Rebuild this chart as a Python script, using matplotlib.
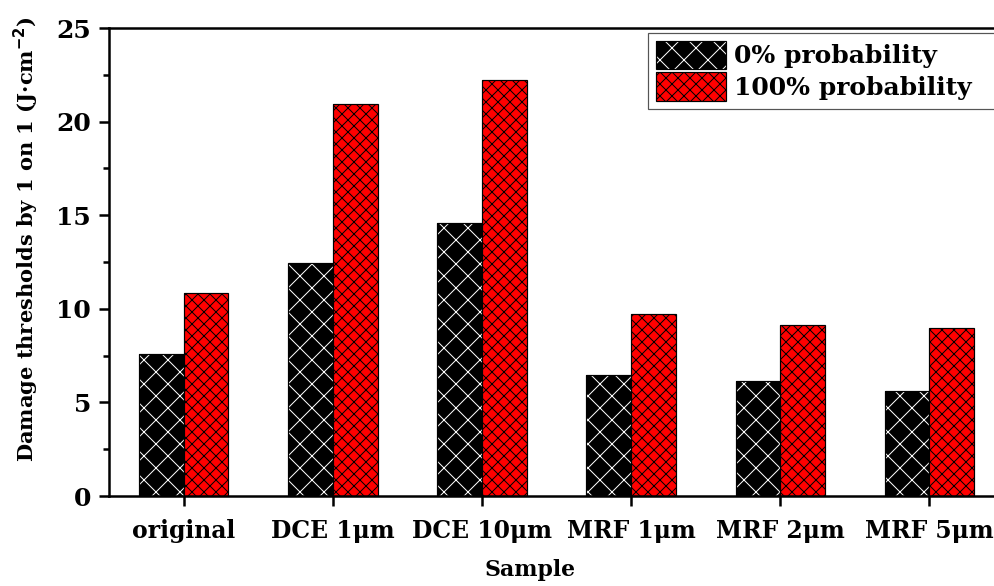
"""Damage thresholds (1-on-1) for the original and processed samples."""

import matplotlib

matplotlib.use("Agg")

import matplotlib.pyplot as plt
import numpy as np
from matplotlib.legend_handler import HandlerTuple
from matplotlib.patches import Patch

SAMPLES = ["original", "DCE 1μm", "DCE 10μm", "MRF 1μm", "MRF 2μm", "MRF 5μm"]
ZERO_PROB = [7.6, 12.45, 14.6, 6.45, 6.15, 5.6]
FULL_PROB = [10.85, 20.95, 22.2, 9.7, 9.15, 8.95]
SERIES_LABELS = ["0% probability", "100% probability"]

plt.rcParams.update(
    {
        "font.family": "DejaVu Serif",
        "font.weight": "bold",
        "hatch.linewidth": 1.0,
        "axes.linewidth": 2.5,
    }
)

# dpi 72 so hatch tiles are 72 px: 'x' ~12 px spacing, 'xx' ~6 px
fig = plt.figure(figsize=(994 / 72, 586 / 72), dpi=72)
ax = fig.add_axes([109 / 994, 1 - 496 / 586, 895 / 994, 468 / 586])

x = np.arange(len(SAMPLES))
width = 0.3

# black bars with white crosshatch
ax.bar(x - width / 2, ZERO_PROB, width, color="black", edgecolor="white",
       hatch="x", linewidth=0)
ax.bar(x - width / 2, ZERO_PROB, width, fill=False, edgecolor="black", linewidth=1.2)
# red bars with dense black crosshatch
ax.bar(x + width / 2, FULL_PROB, width, color="#ff0000", edgecolor="black",
       hatch="xx", linewidth=0)
ax.bar(x + width / 2, FULL_PROB, width, fill=False, edgecolor="black", linewidth=1.2)

ax.set_xlim(-0.5, len(SAMPLES) - 0.5)
ax.set_ylim(0, 25)
ax.set_yticks([0, 5, 10, 15, 20, 25])
ax.set_yticks(np.arange(2.5, 25, 5), minor=True)
ax.set_xticks(x)
ax.set_xticklabels(SAMPLES)
ax.tick_params(axis="both", which="major", direction="out", length=10, width=2.5,
               labelsize=25, pad=8)
ax.tick_params(axis="x", which="major", pad=13, labelsize=23.5)
ax.tick_params(axis="y", which="minor", direction="out", length=6, width=2.5)
ax.tick_params(axis="x", which="minor", bottom=False)

ax.set_xlabel("Sample", fontsize=22, fontweight="bold")
ax.set_ylabel("Damage thresholds by 1 on 1 (J·cm$^{\\mathbf{-2}}$)", fontsize=21,
              fontweight="bold")
ax.xaxis.set_label_coords(0.47, -0.135)
ax.yaxis.set_label_coords(-0.076, 0.549)

handles = [
    (Patch(facecolor="black", edgecolor="white", hatch="x", linewidth=0),
     Patch(fill=False, edgecolor="black", linewidth=1.2)),
    (Patch(facecolor="#ff0000", edgecolor="black", hatch="xx", linewidth=0),
     Patch(fill=False, edgecolor="black", linewidth=1.2)),
]
# the legend frame runs off the right edge, as in the source figure
leg = ax.legend(handles, SERIES_LABELS, loc="upper left", mode="expand",
                bbox_to_anchor=(648 / 994, 1 - 33 / 586, 370 / 994, 0),
                bbox_transform=fig.transFigure, borderaxespad=0, fontsize=25,
                handler_map={tuple: HandlerTuple(ndivide=1, pad=0)},
                handlelength=2.8, handleheight=1.4, handletextpad=0.32,
                labelspacing=0.12, borderpad=0.3, fancybox=False,
                edgecolor="#555555", framealpha=1)
leg.get_frame().set_linewidth(1.2)

fig.savefig("out.png", dpi=72)
